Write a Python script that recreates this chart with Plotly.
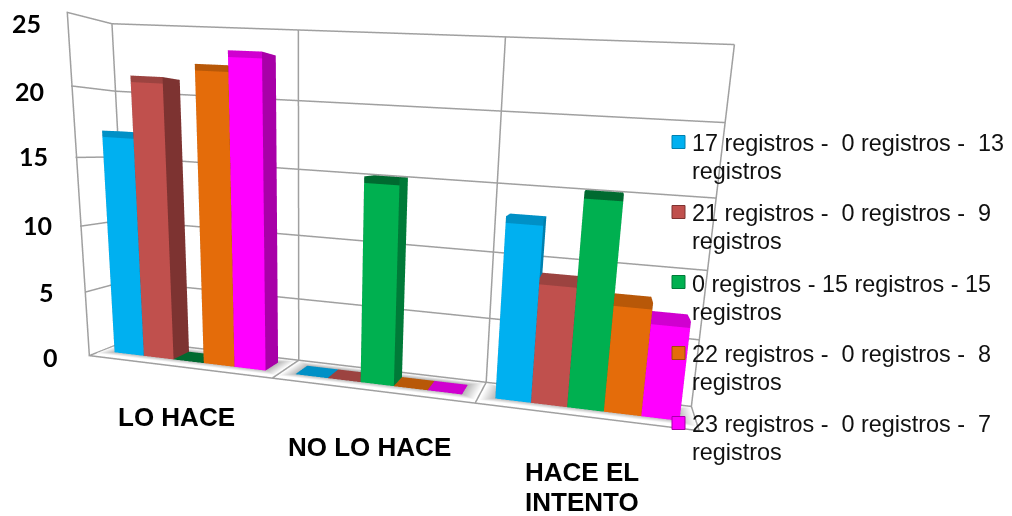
import plotly.graph_objects as go

categories = ["LO HACE", "NO LO HACE", "HACE EL<br>INTENTO"]
series_names = ["17 registros -  0 registros -  13<br>registros",
                "21 registros -  0 registros -  9<br>registros",
                "0 registros - 15 registros - 15<br>registros",
                "22 registros -  0 registros -  8<br>registros",
                "23 registros -  0 registros -  7<br>registros"]
s1 = [17, 0, 13]
s2 = [21, 0, 9]
s3 = [0, 15, 15]
s4 = [22, 0, 8]
s5 = [23, 0, 7]
series = [s1, s2, s3, s4, s5]
front_colors = ["#00B0F0", "#C0504D", "#00B050", "#E46C0A", "#FF00FF"]
side_colors = ["#0080AE", "#7D3331", "#007A38", "#A04C07", "#A800A8"]
top_colors = ["#0090C6", "#9C4340", "#006A30", "#B85808", "#D000D0"]
z_ticks = [0, 5, 10, 15, 20, 25]
tick_xshift = [-28, -28, -26, -25, -25, -23]
tick_yshift = [-1, 0, 1, 1, -5, -11]
cat_xshift = [-1, -1, -3]
cat_yshift = [-33, -40, -38]

GAP = 0.08
BAR_W = (1 - 2 * GAP) / 5
Y0, Y1 = 0.30, 0.75
BEVEL = 0.45
XA, XB, YB, ZT = 0.005, 2.995, 0.995, 24.95

fig = go.Figure()
gx, gy, gz = [], [], []
for v in z_ticks:
    vv = min(v, ZT)
    gx += [-0.05, XA, XA, XB, None]; gy += [0.005, 0.005, YB, YB, None]; gz += [vv, vv, vv, vv, None]
for b in range(4):
    bb = min(max(b, XA), XB)
    gx += [bb, bb, bb, bb, None]; gy += [-0.12, 0.005, YB, YB, None]; gz += [0, 0, 0, ZT, None]
gx += [XA, XA, None, XA, XB, None]; gy += [0.005, 0.005, None, 0.005, 0.005, None]; gz += [0, ZT, None, 0, 0, None]
fig.add_trace(go.Scatter3d(x=gx, y=gy, z=gz, mode="lines", line=dict(color="#a0a0a0", width=3),
                           hoverinfo="skip", showlegend=False))

# soft floor shadows
for c_ in range(3):
    sx = [c_ + 0.01, c_ + 0.99, c_ + 0.99, c_ + 0.01, c_ + 0.08, c_ + 0.92, c_ + 0.92, c_ + 0.08]
    sy = [0.15, 0.15, 0.95, 0.95, 0.32, 0.32, 0.78, 0.78]
    fig.add_trace(go.Mesh3d(x=sx, y=sy, z=[0] * 8,
                            i=[0, 0, 1, 1, 2, 2, 3, 3, 4, 4], j=[1, 5, 2, 6, 3, 7, 0, 4, 5, 6], k=[5, 4, 6, 5, 7, 6, 4, 7, 6, 7],
                            vertexcolor=["#ffffff"] * 4 + ["#b8b8b8"] * 4, flatshading=False,
                            lighting=dict(ambient=1, diffuse=0, specular=0, fresnel=0, roughness=1),
                            hoverinfo="skip", showscale=False))

for i, vals in enumerate(series):
    X, Y, Z, I, J, K, FC = [], [], [], [], [], [], []
    for c_, v in enumerate(vals):
        x0 = c_ + GAP + i * BAR_W
        x1 = x0 + BAR_W
        v2 = max(v, 0.03)
        m = max(v2 - BEVEL, 0)
        b = len(X)
        X += [x0, x1, x1, x0, x0, x1, x1, x0, x0, x1, x1, x0]
        Y += [Y0, Y0, Y1, Y1] * 3
        Z += [0] * 4 + [m] * 4 + [v2] * 4
        F, S, T = front_colors[i], side_colors[i], top_colors[i]
        def quad(a, bb, cc, d, col):
            for tri in ((a, bb, cc), (a, cc, d)):
                I.append(b + tri[0]); J.append(b + tri[1]); K.append(b + tri[2]); FC.append(col)
        quad(0, 1, 5, 4, F); quad(4, 5, 9, 8, T)
        quad(1, 2, 6, 5, S); quad(5, 6, 10, 9, S)
        quad(8, 9, 10, 11, T)
        quad(0, 3, 7, 4, S); quad(4, 7, 11, 8, S)
        quad(3, 2, 6, 7, S); quad(7, 6, 10, 11, S)
    fig.add_trace(go.Mesh3d(x=X, y=Y, z=Z, i=I, j=J, k=K, facecolor=FC, flatshading=True,
                            lighting=dict(ambient=1, diffuse=0, specular=0, fresnel=0, roughness=1),
                            hoverinfo="skip", name=series_names[i].replace("<br>", " "), showscale=False))

axis_common = dict(showbackground=False, showspikes=False, title="", showticklabels=False, showgrid=False,
                   zeroline=False, showline=False, ticks="")
annos = []
for k_, v in enumerate(z_ticks):
    annos.append(dict(x=0, y=0, z=v, text=f"<b>{v}</b>", showarrow=False, xanchor="right",
                      xshift=tick_xshift[k_], yshift=tick_yshift[k_],
                      font=dict(family="Lato, Open Sans", size=25, color="black")))
for c_, t in enumerate(categories):
    for ln, part in enumerate(t.split("<br>")):
        annos.append(dict(x=c_ + 0.5, y=0, z=0, text=f"<b>{part}</b>", showarrow=False, yanchor="top",
                          xshift=cat_xshift[c_], yshift=cat_yshift[c_] - 30 * ln,
                          font=dict(family="Liberation Sans", size=26, color="black")))

fig.update_layout(
    width=1012, height=516, margin=dict(l=0, r=0, t=0, b=0), paper_bgcolor="white", showlegend=False,
    scene=dict(
        domain=dict(x=[0, 1], y=[0, 1]),
        xaxis=dict(range=[0, 3], **axis_common),
        yaxis=dict(range=[0, 1], **axis_common),
        zaxis=dict(range=[0, 25], **axis_common),
        aspectmode="manual", aspectratio=dict(x=1, y=0.0888, z=0.5507),
        camera=dict(eye=dict(x=0.3356, y=-0.9240, z=0.1153),
                    center=dict(x=0.1511, y=0.2821, z=-0.1068),
                    up=dict(x=-0.0331, y=-0.1599, z=1)),
        annotations=annos, bgcolor="white"),
)

legend_x, legend_y = 691, [143, 213, 284, 354, 424]
marker_y = [142, 212, 282, 353, 423]
shapes, lann = [], []
for i, name in enumerate(series_names):
    y = legend_y[i]
    shapes.append(dict(type="rect", xref="paper", yref="paper", x0=672 / 1012, x1=685 / 1012,
                       y0=1 - (marker_y[i] + 6.5) / 516, y1=1 - (marker_y[i] - 6.5) / 516, fillcolor=front_colors[i],
                       line=dict(color=side_colors[i], width=1)))
    for ln, part in enumerate(name.split("<br>")):
        lann.append(dict(xref="paper", yref="paper", x=legend_x / 1012, y=1 - (y + 28 * ln) / 516,
                         xanchor="left", yanchor="middle", align="left", showarrow=False, text=part, borderpad=0,
                         font=dict(family="Liberation Sans", size=23.4, color="#111")))
fig.update_layout(shapes=shapes, annotations=lann)
fig.write_html("out.html", config=dict(displayModeBar=False), post_script="document.body.style.margin='0px';")
